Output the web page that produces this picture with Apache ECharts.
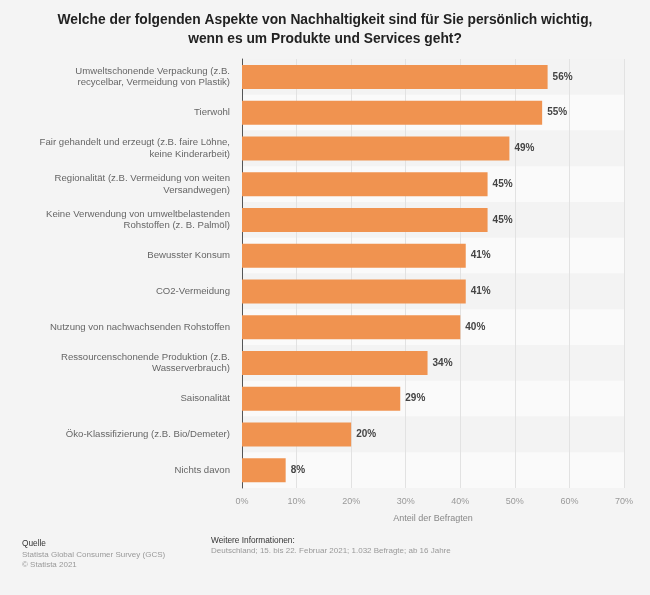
<!DOCTYPE html>
<html><head><meta charset="utf-8">
<script src="https://cdn.jsdelivr.net/npm/echarts@6/dist/echarts.min.js"></script>
<style>html,body{margin:0;padding:0;background:#f4f4f4;}#c{width:650px;height:595px;}</style>
</head><body><div id="c"></div>
<script>
const categories = [
  "Umweltschonende Verpackung (z.B.\nrecycelbar, Vermeidung von Plastik)",
  "Tierwohl",
  "Fair gehandelt und erzeugt (z.B. faire Löhne,\nkeine Kinderarbeit)",
  "Regionalität (z.B. Vermeidung von weiten\nVersandwegen)",
  "Keine Verwendung von umweltbelastenden\nRohstoffen (z. B. Palmöl)",
  "Bewusster Konsum",
  "CO2-Vermeidung",
  "Nutzung von nachwachsenden Rohstoffen",
  "Ressourcenschonende Produktion (z.B.\nWasserverbrauch)",
  "Saisonalität",
  "Öko-Klassifizierung (z.B. Bio/Demeter)",
  "Nichts davon"
];
const values = [56, 55, 49, 45, 45, 41, 41, 40, 34, 29, 20, 8];
const titleText = "Welche der folgenden Aspekte von Nachhaltigkeit sind für Sie persönlich wichtig,\nwenn es um Produkte und Services geht?";
const axisName = "Anteil der Befragten";

const chart = echarts.init(document.getElementById('c'), null, {renderer:'canvas'});
const F = "'Liberation Sans', Arial, sans-serif";
chart.setOption({
  backgroundColor: '#f4f4f4',
  animation: false,
  title: {
    text: titleText, left: 'center', top: 5,
    textStyle: {fontFamily: F, fontSize: 13.8, fontWeight: 'bold', color: '#222', lineHeight: 19.5}
  },
  grid: {left: 242, right: 26, top: 59, bottom: 107, containLabel: false},
  xAxis: {
    type: 'value', min: 0, max: 70, interval: 10,
    axisLabel: {formatter: '{value}%', color: '#999', fontFamily: F, fontSize: 9, margin: 9},
    axisLine: {show: false}, axisTick: {show: false},
    splitLine: {show: true, lineStyle: {color: '#e2e2e2', width: 1}},
    name: axisName, nameLocation: 'middle', nameGap: 26,
    nameTextStyle: {color: '#888', fontFamily: F, fontSize: 9}
  },
  yAxis: {
    type: 'category', data: categories, inverse: true,
    axisLine: {show: true, lineStyle: {color: '#555', width: 1}},
    axisTick: {show: false},
    axisLabel: {color: '#666', fontFamily: F, fontSize: 9.6, margin: 12, lineHeight: 11.5, align: 'right'},
    splitArea: {show: true, areaStyle: {color: ['#f3f3f3', '#fafafa']}}
  },
  series: [{
    type: 'bar', data: values, barWidth: 24,
    itemStyle: {color: '#f09350'},
    label: {show: true, position: 'right', formatter: '{c}%', color: '#444', fontWeight: 'bold', fontFamily: F, fontSize: 10, distance: 5}
  }],
  graphic: [
    {type: 'text', left: 22, top: 540, style: {text: 'Quelle', fill: '#333', font: '8.3px ' + F}},
    {type: 'text', left: 22, top: 551, style: {text: 'Statista Global Consumer Survey (GCS)', fill: '#999', font: '8px ' + F}},
    {type: 'text', left: 22, top: 561, style: {text: '© Statista 2021', fill: '#999', font: '8px ' + F}},
    {type: 'text', left: 211, top: 537, style: {text: 'Weitere Informationen:', fill: '#333', font: '8.3px ' + F}},
    {type: 'text', left: 211, top: 547, style: {text: 'Deutschland; 15. bis 22. Februar 2021; 1.032 Befragte; ab 16 Jahre', fill: '#999', font: '8px ' + F}}
  ]
});
</script></body></html>
